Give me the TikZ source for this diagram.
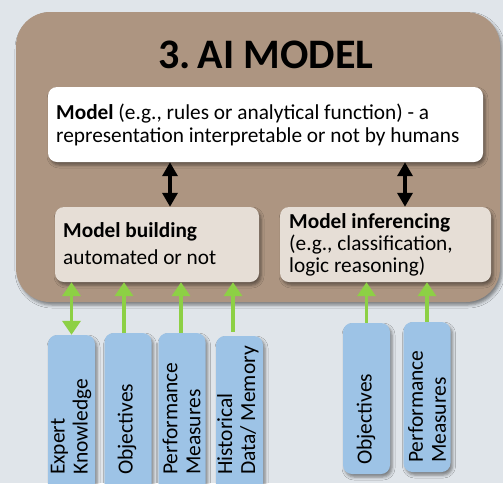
\documentclass[tikz,border=0pt]{standalone}
\usepackage{fontspec}
\setmainfont{Carlito}
\usetikzlibrary{shadows.blur,arrows.meta}
\definecolor{bgc}{HTML}{E0E5EA}
\definecolor{brownc}{HTML}{AD9581}
\definecolor{palec}{HTML}{E6DED6}
\definecolor{bluec}{HTML}{9DC3E6}
\definecolor{greenc}{HTML}{8DD045}
\tikzset{
  shd/.style={blur shadow={shadow xshift=2pt,shadow yshift=-3pt,shadow blur radius=3pt,shadow opacity=45}},
  box/.style={shd,rounded corners=9pt,inner sep=0pt,draw=none},
  bluebox/.style={box,fill=bluec,minimum width=47pt},
  btxt/.style={rotate=90,anchor=west,align=left,font=\fontsize{21.5}{23}\selectfont,inner sep=0pt},
  blk/.style={line width=3.5pt,{Triangle[length=14pt,width=15pt]}-{Triangle[length=14pt,width=15pt]}},
  grn/.style={draw=greenc,line width=3.5pt,-{Triangle[length=14pt,width=18pt]},color=greenc},
  grn2/.style={draw=greenc,line width=3.5pt,{Triangle[length=14pt,width=18pt]}-{Triangle[length=14pt,width=18pt]},color=greenc},
}
\begin{document}
\begin{tikzpicture}[x=1pt,y=-1pt]
\useasboundingbox (0,0) rectangle (503,483);
\fill[bgc] (0,0) rectangle (503,483);
% main brown container
\node[box,fill=brownc,rounded corners=34pt,minimum width=484pt,minimum height=290pt] (main) at (258,157) {};
\node[font=\fontsize{42}{50}\selectfont\bfseries] (title) at (266,55) {3.\,AI MODEL};
% model box
\node[box,fill=white,minimum width=435pt,minimum height=75pt] (model) at (265.5,124.5) {};
\node[anchor=west,align=left,font=\fontsize{21.3}{23}\selectfont,inner sep=0pt] (modeltxt) at (56,124.5)
  {\textbf{Model} (e.g., rules or analytical function) - a\\representation interpretable or not by humans};
% model building
\node[box,fill=palec,minimum width=204pt,minimum height=75pt] (mb) at (157,244.5) {};
\node[anchor=west,align=left,font=\fontsize{21.3}{23}\selectfont,inner sep=0pt] (mbtxt) at (63,243.5)
  {\textbf{Model building}\\[4pt]automated or not};
% model inferencing
\node[box,fill=palec,minimum width=211pt,minimum height=75pt] (mi) at (385.5,244.5) {};
\node[anchor=west,align=left,font=\fontsize{21.3}{22}\selectfont,inner sep=0pt] (mitxt) at (289,244.5)
  {\textbf{Model inferencing}\\(e.g., classification,\\logic reasoning)};
% blue boxes
\node[bluebox,minimum height=160pt] (b1) at (71.5,415) {};
\node[bluebox,minimum height=162pt] (b2) at (128,414) {};
\node[bluebox,minimum height=162pt] (b3) at (182,414) {};
\node[bluebox,minimum height=159pt] (b4) at (239.5,415.5) {};
\node[bluebox,minimum height=151pt] (b5) at (366.5,398.5) {};
\node[bluebox,minimum height=150pt] (b6) at (427,397) {};
\node[btxt] (t1) at (71,475) {Expert\\Knowledge};
\node[btxt] (t2) at (127,475) {Objectives};
\node[btxt] (t3) at (181.5,475) {Performance\\Measures};
\node[btxt] (t4) at (238,475) {Historical\\Data/ Memory};
\node[btxt] (t5) at (366,465) {Objectives};
\node[btxt] (t6) at (427,463) {Performance\\Measures};
% black arrows
\draw[blk] ([xshift=13pt]model.south -| mb.north) -- ([xshift=13pt]mb.north);
\draw[blk] ([xshift=19.5pt]model.south -| mi.north) -- ([xshift=19.5pt]mi.north);
% green arrows
\draw[grn2] ([xshift=0pt]b1.north) -- ([xshift=0pt]b1.north |- mb.south);
\draw[grn] ([xshift=-4pt]b2.north) -- ([xshift=-4pt]b2.north |- mb.south);
\draw[grn] ([xshift=-1pt]b3.north) -- ([xshift=-1pt]b3.north |- mb.south);
\draw[grn,shorten <=4pt] ([xshift=-6.5pt]b4.north) -- ([xshift=-6.5pt]b4.north |- mb.south);
\draw[grn] (b5.north) -- (b5.north |- mi.south);
\draw[grn] (b6.north) -- (b6.north |- mi.south);
\end{tikzpicture}
\end{document}
